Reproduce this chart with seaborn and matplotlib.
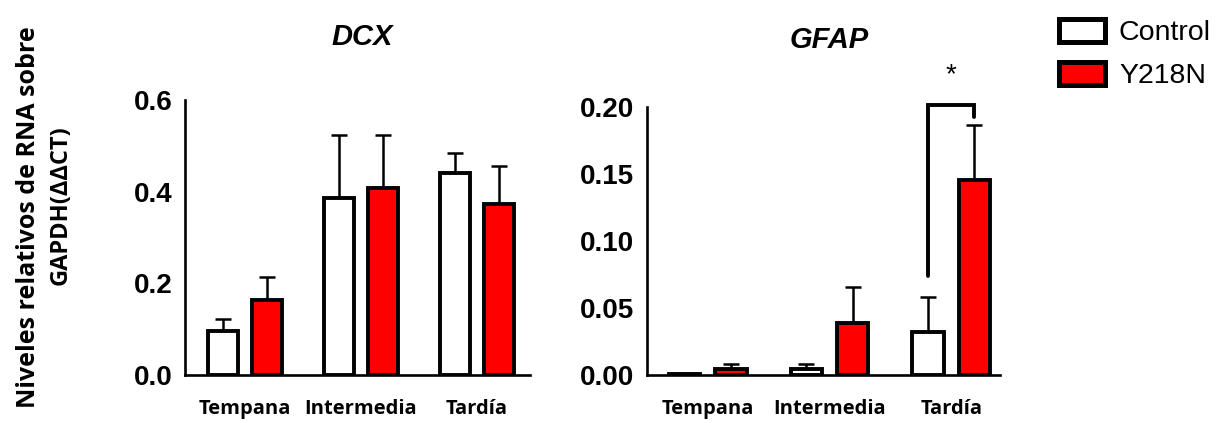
import numpy as np
import pandas as pd
import matplotlib
matplotlib.use("Agg")
import matplotlib.pyplot as plt
import seaborn as sns

# data
categories = ["Tempana", "Intermedia", "Tardía"]
groups = ["Control", "Y218N"]

dcx_control = [0.095, 0.387, 0.440]
dcx_control_sem = [0.028, 0.136, 0.045]
dcx_y218n = [0.164, 0.408, 0.374]
dcx_y218n_sem = [0.049, 0.115, 0.081]

gfap_control = [0.0005, 0.0045, 0.0324]
gfap_control_sem = [0.0, 0.0035, 0.0256]
gfap_y218n = [0.0043, 0.039, 0.1457]
gfap_y218n_sem = [0.0037, 0.0265, 0.0413]

colors = {"Control": "#ffffff", "Y218N": "#ff0000"}


def make_frame(ctrl, mut):
    return pd.DataFrame({
        "etapa": categories * 2,
        "grupo": [groups[0]] * 3 + [groups[1]] * 3,
        "valor": list(ctrl) + list(mut),
    })


def draw_panel(ax, df, sems, yticks, fmt, xlim):
    sns.barplot(data=df, x="etapa", y="valor", hue="grupo", hue_order=groups,
                order=categories, palette=colors, saturation=1, errorbar=None,
                width=0.76, gap=0.32, edgecolor="black", linewidth=2.8, ax=ax)
    # one-sided error bars (mean + SEM)
    for cont, sem in zip(ax.containers, sems):
        xs = [p.get_x() + p.get_width() / 2 for p in cont.patches]
        ys = [p.get_height() for p in cont.patches]
        ax.errorbar(xs, ys, yerr=[np.zeros(len(sem)), sem], fmt="none",
                    ecolor="black", elinewidth=1.8, capsize=6, capthick=1.8,
                    zorder=0.5)
    ax.set_ylim(yticks[0], yticks[-1])
    ax.set_xlim(*xlim)
    ax.set_yticks(yticks)
    ax.set_yticklabels([fmt % t for t in yticks], fontsize=20,
                       fontweight="bold", family="Liberation Sans")
    ax.set_xticks(range(len(categories)))
    ax.set_xticklabels(categories, fontsize=14.5, fontweight="bold",
                       family="Open Sans")
    ax.tick_params(axis="x", length=0, pad=17, colors="black")
    ax.tick_params(axis="y", length=6, width=1.8, pad=3, colors="black")
    ax.set_xlabel("")
    ax.set_ylabel("")
    for s in ["top", "right"]:
        ax.spines[s].set_visible(False)
    for s in ["left", "bottom"]:
        ax.spines[s].set_linewidth(1.9)
        ax.spines[s].set_color("black")
    ax.legend_.remove()


sns.set_style("white")
plt.rcParams["text.color"] = "black"

fig = plt.figure(figsize=(12.2, 4.23), dpi=100)
ax1 = fig.add_axes([0.1516, 0.1135, 0.2828, 0.6501])
ax2 = fig.add_axes([0.5303, 0.1135, 0.2893, 0.6328])

draw_panel(ax1, make_frame(dcx_control, dcx_y218n),
           [dcx_control_sem, dcx_y218n_sem],
           [0.0, 0.2, 0.4, 0.6], "%.1f", (-0.52, 2.46))
draw_panel(ax2, make_frame(gfap_control, gfap_y218n),
           [gfap_control_sem, gfap_y218n_sem],
           [0.0, 0.05, 0.10, 0.15, 0.20], "%.2f", (-0.50, 2.40))

# significance bracket on Tardía
xl = ax2.containers[0].patches[2]
xr = ax2.containers[1].patches[2]
x0 = xl.get_x() + xl.get_width() / 2
x1 = xr.get_x() + xr.get_width() / 2
ax2.plot([x0, x0, x1, x1], [0.074, 0.2017, 0.2017, 0.193], color="black",
         lw=2.8, clip_on=False, solid_joinstyle="miter")
ax2.text((x0 + x1) / 2, 0.224, "*", ha="center", va="center", fontsize=20,
         family="Liberation Sans", color="black", clip_on=False)

fig.text(0.297, 0.9125, "DCX", ha="center", va="center", fontsize=21,
         fontweight="bold", fontstyle="italic", family="Liberation Sans",
         color="black")
fig.text(0.680, 0.905, "GFAP", ha="center", va="center", fontsize=21,
         fontweight="bold", fontstyle="italic", family="Liberation Sans",
         color="black")

fig.text(0.023, 0.487, "Niveles relativos de RNA sobre", rotation=90,
         ha="center", va="center", fontsize=18, fontweight="bold",
         family="Open Sans", color="black")
fig.text(0.050, 0.515, "GAPDH(ΔΔCT)", rotation=90, ha="center", va="center",
         fontsize=17, fontweight="bold", family="Open Sans", color="black")

handles = [ax1.containers[0].patches[0], ax1.containers[1].patches[0]]
leg = fig.legend(handles, groups, loc="upper left", bbox_to_anchor=(0.853, 1.0),
                 frameon=False, prop={"family": "Liberation Sans", "size": 20.5},
                 handlelength=1.6, handleheight=0.87, handletextpad=0.5,
                 labelspacing=0.55, borderaxespad=0.25)
for h in leg.legend_handles:
    h.set_edgecolor("black")
    h.set_linewidth(3.6)
for t in leg.get_texts():
    t.set_color("black")

fig.savefig("out.png", dpi=100)
